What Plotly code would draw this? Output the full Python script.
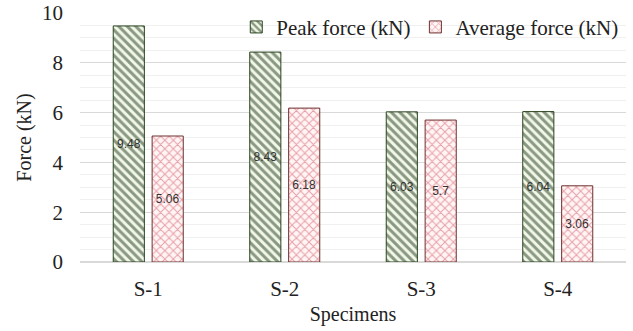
import plotly.graph_objects as go

categories = ["S-1", "S-2", "S-3", "S-4"]
peak_force = [9.48, 8.43, 6.03, 6.04]
avg_force = [5.06, 6.18, 5.7, 3.06]
y_ticks = [0, 2, 4, 6, 8, 10]

SERIF = "Liberation Serif"

fig = go.Figure()
fig.add_trace(go.Bar(
    x=categories, y=peak_force, name="Peak force (kN)",
    text=[str(v) for v in peak_force], textposition="inside",
    insidetextanchor="middle", textangle=0,
    textfont=dict(family="Liberation Sans", size=12, color="#333333"),
    marker=dict(color="white", line=dict(color="#2a4420", width=1),
                pattern=dict(shape="\\", fgcolor="#1f3a16", bgcolor="#f2f7ea",
                             size=6, solidity=0.5)),
))
fig.add_trace(go.Bar(
    x=categories, y=avg_force, name="Average force (kN)",
    text=[str(v) for v in avg_force], textposition="inside",
    insidetextanchor="middle", textangle=0,
    textfont=dict(family="Liberation Sans", size=12, color="#333333"),
    marker=dict(color="white", line=dict(color="#6e3030", width=1),
                pattern=dict(shape="x", fgcolor="#d04858", bgcolor="#fff5f5",
                             size=6, solidity=0.3)),
))

fig.update_layout(
    width=633, height=331,
    margin=dict(l=80, r=7, t=13, b=69, autoexpand=False),
    paper_bgcolor="white", plot_bgcolor="white",
    barmode="group", bargap=0.43, bargroupgap=0.2,
    font=dict(family=SERIF, size=20, color="#222222"),
    legend=dict(orientation="h", x=0.995, xanchor="right", y=1.025, yanchor="top",
                bgcolor="rgba(0,0,0,0)", font=dict(family=SERIF, size=21),
                traceorder="normal", itemwidth=30),
    xaxis=dict(title=dict(text="Specimens", standoff=6,
                          font=dict(family=SERIF, size=20)),
               showgrid=False, ticks="", ticklabelstandoff=12,
               showline=False, tickfont=dict(family=SERIF, size=21)),
    yaxis=dict(title=dict(text="Force (kN)", standoff=5,
                          font=dict(family=SERIF, size=20)),
               range=[0, 10],
               tickvals=y_ticks, showgrid=True, gridcolor="#d9d9d9", gridwidth=1,
               minor=dict(dtick=0.5, showgrid=True, gridcolor="#f0f0f0"),
               zeroline=True, zerolinecolor="#d9d9d9",
               tickfont=dict(family=SERIF, size=21),
               ticks="", ticklabelstandoff=16, showline=False),
)
fig.write_html("out.html")
